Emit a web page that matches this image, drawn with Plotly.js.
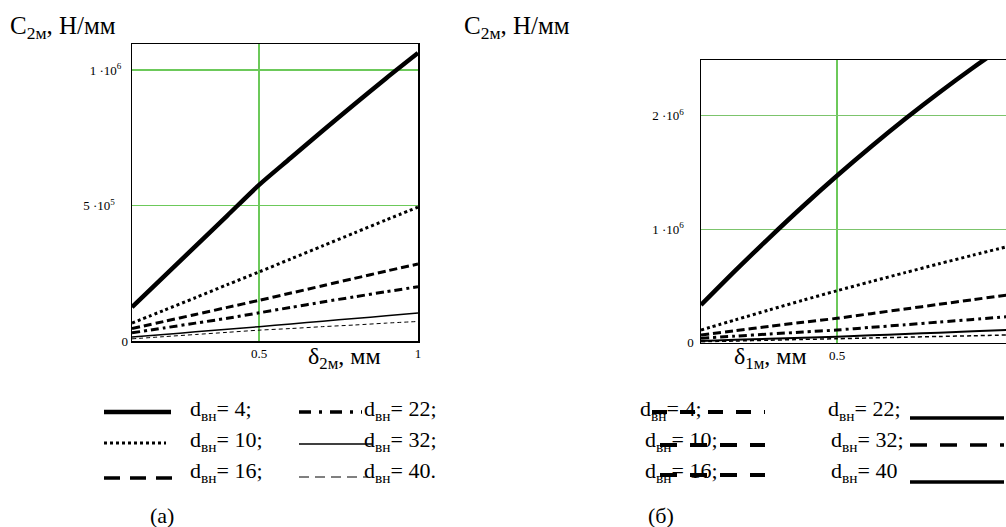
<!DOCTYPE html>
<html><head><meta charset="utf-8">
<script src="https://cdn.plot.ly/plotly-3.0.1.min.js"></script>
<style>html,body{margin:0;padding:0;overflow:hidden;background:#fff}#chart{width:1008px;height:527px}</style>
</head><body><div id="chart"></div>
<script>
// ---- data ----
const delta = [0.1, 0.2, 0.3, 0.4, 0.5, 0.6, 0.7, 0.8, 0.9, 1.0];
const dvn = ['4', '10', '16', '22', '32', '40'];

// (а) C2м vs δ2м, Н/мм
const a_d4  = [125000, 238000, 350000, 463000, 576000, 676000, 776000, 874000, 970000, 1063000];
const a_d10 = [66000, 113000, 160000, 208000, 255000, 303000, 351000, 399000, 447000, 494000];
const a_d16 = [46000, 72000, 98000, 124000, 150000, 177000, 204000, 231000, 258000, 284000];
const a_d22 = [30000, 48000, 66000, 84000, 104000, 124000, 144000, 163000, 182000, 200000];
const a_d32 = [15000, 24000, 34000, 43000, 53000, 63000, 73000, 83000, 93000, 103000];
const a_d40 = [8000, 16000, 24000, 32000, 40000, 46000, 53000, 59000, 66000, 72000];

// (б) C2м vs δ1м, Н/мм
const b_d4  = [332000, 632000, 922000, 1202000, 1470000, 1726000, 1970000, 2202000, 2422000, 2630000];
const b_d10 = [112000, 200000, 288000, 374000, 458000, 538000, 617000, 695000, 771000, 846000];
const b_d16 = [68000, 106000, 144000, 180000, 215000, 256000, 297000, 338000, 379000, 420000];
const b_d22 = [40000, 58000, 76000, 94000, 112000, 135000, 158000, 182000, 205000, 229000];
const b_d32 = [15000, 25000, 34000, 44000, 53000, 65000, 77000, 88000, 100000, 112000];
const b_d40 = [8000, 15000, 22000, 29000, 35000, 42000, 48000, 55000, 61000, 68000];

// ticks
const NB = '\u00a0';
const xTickVals = [0.5, 1];
const xTickText = ['0.5', '1'];
const aYTickVals = [0, 500000, 1000000];
const aYTickText = ['0', '5 ·10<sup>5</sup>' + NB.repeat(4), '1 ·10<sup>6</sup>' + NB.repeat(2)];
const bYTickVals = [0, 1000000, 2000000];
const bYTickText = ['0' + NB, '1 ·10<sup>6</sup>' + NB.repeat(4), '2 ·10<sup>6</sup>' + NB.repeat(4)];

// ---- styling ----
const W = 1008, H = 527;
const FONT = 'Liberation Serif';
const px = x => x / W, py = y => 1 - y / H;
const styles = [
  {width: 4.5, dash: 'solid'},
  {width: 3, dash: '3px,3px'},
  {width: 3, dash: '8px,4px'},
  {width: 3, dash: '8px,4px,3px,4px'},
  {width: 1.5, dash: 'solid'},
  {width: 1, dash: '4px,3px'}
];
const aSeries = [a_d4, a_d10, a_d16, a_d22, a_d32, a_d40];
const bSeries = [b_d4, b_d10, b_d16, b_d22, b_d32, b_d40];

const traces = [];
aSeries.forEach((ys, i) => traces.push({x: delta, y: ys, xaxis: 'x', yaxis: 'y', mode: 'lines',
  name: 'dвн=' + dvn[i], line: {color: '#000', width: styles[i].width, dash: styles[i].dash, shape: 'spline', smoothing: 0.8}, hoverinfo: 'skip'}));
bSeries.forEach((ys, i) => traces.push({x: delta, y: ys, xaxis: 'x2', yaxis: 'y2', mode: 'lines',
  name: 'dвн=' + dvn[i], line: {color: '#000', width: i >= 4 ? styles[i].width + 0.5 : styles[i].width, dash: styles[i].dash, shape: 'spline', smoothing: 0.8}, hoverinfo: 'skip'}));

const GRID = '#6cc95a';
const axBase = {showline: true, mirror: true, linecolor: '#000', linewidth: 1.5, zeroline: false,
  ticks: '', showgrid: true, gridcolor: GRID, gridwidth: 1.3,
  tickfont: {family: FONT, size: 13, color: '#000'}, tickmode: 'array'};

const annotations = [];
function txt(text, x, y, size, xanchor) {
  annotations.push({text: text, xref: 'paper', yref: 'paper', x: px(x), y: py(y), showarrow: false,
    xanchor: xanchor || 'left', yanchor: 'middle', font: {family: FONT, size: size, color: '#000'}});
}
const shapes = [];
function seg(x0, x1, y, width, dash) {
  shapes.push({type: 'line', xref: 'paper', yref: 'paper', x0: px(x0), x1: px(x1), y0: py(y), y1: py(y),
    line: {color: '#000', width: width, dash: dash || 'solid'}});
}

// titles
txt('C<sub>2м</sub>, Н/мм', 8, 27, 25);
txt('C<sub>2м</sub>, Н/мм', 462, 27, 25);
txt('δ<sub>2м</sub>, мм', 306, 358, 24);
txt('δ<sub>1м</sub>, мм', 732, 358, 24);

// legend (а)
const leg = n => 'd<sub>вн</sub>= ' + n;
const LS = 22;
txt(leg('4;'), 188, 410, LS);
txt(leg('10;'), 188, 441, LS);
txt(leg('16;'), 188, 472, LS);
txt(leg('22;'), 362, 410, LS);
txt(leg('32;'), 362, 441, LS);
txt(leg('40.'), 362, 472, LS);
seg(104, 171, 412, 4.5);
seg(104, 166, 443, 3, '3px,3px');
seg(104, 172, 478, 3.5, '16px,10px');
seg(299, 362, 412, 3.5, '12px,8px,3px,8px');
seg(299, 372, 444, 1.5);
seg(299, 368, 477, 1, '10px,6px');
txt('(а)', 162, 515, LS, 'center');

// legend (б)
txt(leg('4;'), 638, 410, LS);
txt(leg('10;'), 643, 441, LS);
txt(leg('16;'), 643, 472, LS);
txt(leg('22;'), 826, 410, LS);
txt(leg('32;'), 829, 441, LS);
txt(leg('40'), 829, 472, LS);
seg(652, 765, 412, 4, '15px,13px');
seg(660, 765, 445, 4, '17px,13px');
seg(660, 765, 475, 4, '17px,13px');
seg(910, 1004, 418, 3.5);
seg(910, 1004, 445, 3.5, '17px,13px');
seg(910, 1004, 482, 3.5);
txt('(б)', 661, 515, LS, 'center');

const layout = {
  width: W, height: H, margin: {l: 0, r: 0, t: 0, b: 0},
  paper_bgcolor: '#fff', plot_bgcolor: '#fff', showlegend: false,
  xaxis: Object.assign({}, axBase, {domain: [px(132), px(418)], range: [0.1, 1], tickvals: xTickVals, ticktext: xTickText, anchor: 'y'}),
  yaxis: Object.assign({}, axBase, {domain: [py(341), py(44)], range: [0, 1096000], tickvals: aYTickVals, ticktext: aYTickText, anchor: 'x'}),
  xaxis2: Object.assign({}, axBase, {domain: [px(701), px(1007)], range: [0.1, 1], tickvals: xTickVals, ticktext: xTickText, anchor: 'y2'}),
  yaxis2: Object.assign({}, axBase, {domain: [py(342.7), py(60)], range: [0, 2490000], tickvals: bYTickVals, ticktext: bYTickText, anchor: 'x2', gridcolor: '#7cc46c'}),
  annotations: annotations, shapes: shapes
};
Plotly.newPlot('chart', traces, layout, {staticPlot: true, displayModeBar: false});
</script></body></html>
